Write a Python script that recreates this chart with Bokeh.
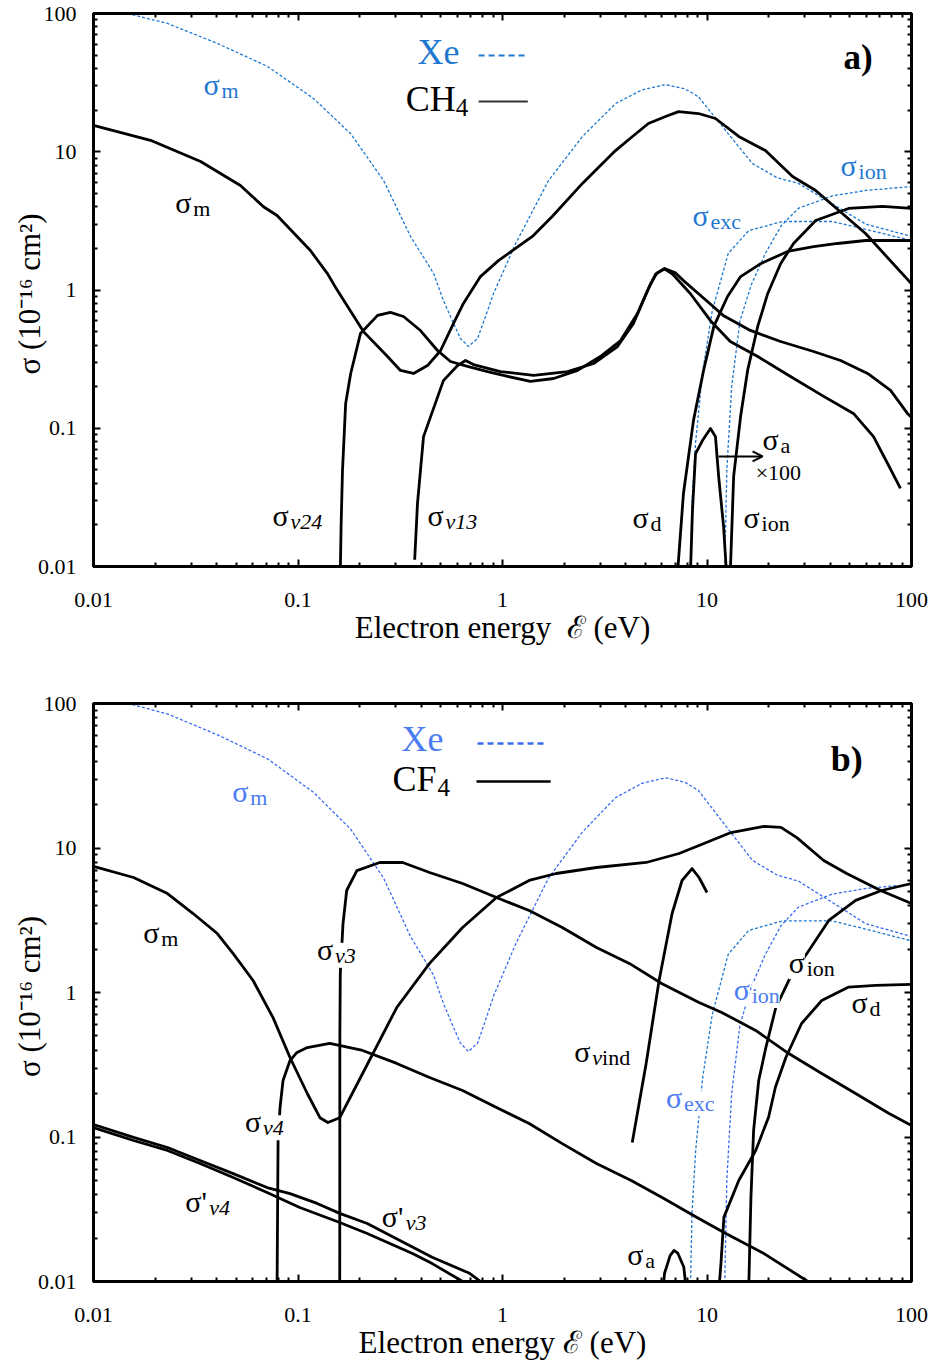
import math
from bokeh.plotting import figure
from bokeh.models import (Range1d, LogAxis, FixedTicker, CustomJSTickFormatter,
                          Label, Arrow, OpenHead)
from bokeh.layouts import column
from bokeh.embed import file_html
from bokeh.resources import INLINE

FONT = "Liberation Serif"

# ---------------- data: Xe (shared by both panels) ----------------
xe_m_E = [0.01, 0.0136, 0.023, 0.0404, 0.071, 0.119, 0.181, 0.262, 0.355, 0.46, 0.514, 0.576,
          0.623, 0.682, 0.755, 0.826, 0.904, 1.0, 1.16, 1.68, 2.46, 3.57, 4.8, 6.27, 7.8, 9.08,
          11.9, 16.7, 22, 28, 41, 59.6, 100]
xe_m = [115, 103, 84.7, 60.7, 41.4, 24.3, 13.5, 6.2, 2.44, 1.32, 0.84, 0.573,
        0.446, 0.39, 0.446, 0.643, 0.944, 1.32, 2.17, 6.2, 12.9, 22.3, 28, 30.6, 28.5, 25,
        15.2, 8.2, 6.5, 5.9, 4.2, 3.0, 2.44]
xe_exc_E = [8.3, 8.45, 8.8, 9.5, 10.6, 12.7, 16, 23.4, 41, 59.6, 100]
xe_exc = [0.009, 0.03, 0.08, 0.25, 0.7, 1.84, 2.69, 3.13, 3.13, 2.75, 2.28]
xe_ion_E = [12.2, 12.5, 13.2, 14.5, 16.5, 19.3, 23, 28, 41, 60, 100]
xe_ion = [0.009, 0.05, 0.2, 0.6, 1.1, 1.84, 2.9, 3.9, 4.8, 5.25, 5.6]

# ---------------- data: CH4 (panel a) ----------------
ch4_m_E = [0.01, 0.019, 0.0334, 0.0523, 0.0678, 0.079, 0.115, 0.139, 0.156, 0.209, 0.274, 0.317,
           0.367, 0.43, 0.498, 0.576, 0.644, 0.78, 0.955, 1.4, 1.75, 2.46, 3.57, 4.32, 5.17, 6.27,
           7.26, 9.08, 11, 14.3, 19.3, 26.2, 34, 59.6, 100]
ch4_m = [15.5, 12.1, 8.5, 5.7, 4.0, 3.46, 1.93, 1.32, 0.99, 0.5, 0.33, 0.262,
         0.249, 0.284, 0.365, 0.573, 0.8, 1.25, 1.63, 2.44, 3.4, 5.9, 10.2, 12.9, 16, 18.0,
         19.5, 18.9, 17.4, 12.9, 10.2, 6.62, 5.25, 2.56, 1.11]
ch4_v24_E = [0.161, 0.1625, 0.165, 0.171, 0.181, 0.202, 0.245, 0.283, 0.328, 0.397, 0.481, 0.557,
             0.674, 0.845, 1.06, 1.37, 1.78, 2.33, 3.01, 3.78, 4.57, 5.3, 5.7, 6.2, 6.8, 8.3, 10.4,
             13.0, 17.7, 25.6, 37.2, 52, 65.2, 76.4, 88.3]
ch4_v24 = [0.009, 0.02, 0.049, 0.151, 0.249, 0.484, 0.655, 0.688, 0.643, 0.509, 0.365, 0.304,
           0.28, 0.257, 0.237, 0.218, 0.229, 0.262, 0.33, 0.431, 0.676, 1.11, 1.33, 1.42, 1.3, 0.94,
           0.60, 0.424, 0.33, 0.237, 0.17, 0.128, 0.087, 0.0556, 0.0367]
ch4_v13_E = [0.372, 0.384, 0.411, 0.514, 0.603, 0.659, 0.721, 0.977, 1.42, 2.08, 2.79, 3.65, 4.37,
             5.12, 5.6, 6.2, 7.0, 7.67, 10.05, 12.0, 16.3, 22.9, 33.2, 45, 61, 79, 95.5, 100]
ch4_v13 = [0.0112, 0.0286, 0.087, 0.221, 0.284, 0.309, 0.289, 0.257, 0.241, 0.257, 0.294, 0.39, 0.573,
           0.99, 1.3, 1.43, 1.33, 1.17, 0.826, 0.655, 0.51, 0.424, 0.359, 0.309, 0.249, 0.188, 0.128, 0.12]
ch4_d_E = [7.18, 7.67, 8.59, 9.62, 10.8, 12.6, 14.6, 18.3, 24.8, 33.2, 43.5, 59.6, 100]
ch4_d = [0.009, 0.0337, 0.114, 0.262, 0.545, 0.897, 1.25, 1.55, 1.9, 2.06, 2.17, 2.28, 2.28]
ch4_ion_E = [13.0, 13.5, 14.6, 15.8, 17.7, 19.8, 22.9, 26.5, 34, 49.2, 72, 100]
ch4_ion = [0.009, 0.0448, 0.122, 0.262, 0.545, 0.94, 1.55, 2.17, 3.18, 3.89, 4.02, 3.89]
ch4_a100_E = [8.3, 8.49, 8.79, 9.5, 10.4, 11.0, 11.4, 12.05, 12.45]
ch4_a100 = [0.009, 0.0254, 0.0656, 0.0815, 0.0995, 0.087, 0.0448, 0.0195, 0.009]

# ---------------- data: CF4 (panel b) ----------------
cf4_m_E = [0.01, 0.0157, 0.023, 0.0307, 0.0403, 0.0482, 0.0603, 0.0755, 0.0914, 0.111, 0.128, 0.14,
           0.16, 0.207, 0.304, 0.44, 0.638, 0.935, 1.35, 1.83, 2.88, 5.04, 7.3, 9.14, 13.1, 19, 23,
           27.5, 37.2, 48.2, 70.6, 100]
cf4_m = [7.45, 6.25, 4.84, 3.52, 2.56, 1.86, 1.21, 0.67, 0.355, 0.2, 0.136, 0.126,
         0.136, 0.275, 0.787, 1.59, 2.82, 4.54, 5.96, 6.66, 7.33, 7.94, 9.16, 10.4, 12.8, 14.1, 13.9,
         11.8, 8.2, 6.66, 5.08, 4.13]
cf4_v3_E = [0.160, 0.1602, 0.161, 0.166, 0.173, 0.194, 0.251, 0.325, 0.44, 0.638, 0.935, 1.35, 1.96,
            2.88, 4.17, 6.03, 9.14, 11.8, 17.3, 25.1, 36.4, 53.3, 77.3, 100]
cf4_v3 = [0.009, 0.5, 1.35, 3.0, 5.08, 6.98, 7.94, 7.94, 6.77, 5.68, 4.54, 3.69, 2.82,
          2.05, 1.59, 1.15, 0.853, 0.728, 0.546, 0.378, 0.275, 0.2, 0.146, 0.12]
cf4_v4_E = [0.079, 0.0799, 0.0817, 0.0845, 0.0914, 0.0989, 0.111, 0.143, 0.207, 0.304, 0.44, 0.638,
            0.935, 1.35, 1.96, 2.88, 4.26, 6.03, 8.94, 12.1, 19, 33]
cf4_v4 = [0.009, 0.0946, 0.16, 0.246, 0.338, 0.385, 0.416, 0.444, 0.397, 0.323, 0.258, 0.21,
          0.16, 0.124, 0.09, 0.0656, 0.05, 0.0381, 0.0277, 0.0218, 0.0156, 0.0095]
cf4_pv3_E = [0.01, 0.0157, 0.023, 0.0332, 0.0482, 0.0706, 0.0914, 0.124, 0.16, 0.218, 0.315, 0.453, 0.69, 0.82]
cf4_pv3 = [0.122, 0.0993, 0.0846, 0.0687, 0.0558, 0.0447, 0.0406, 0.0347, 0.0296, 0.0252, 0.0192, 0.0147, 0.0114, 0.0095]
cf4_pv4_E = [0.01, 0.0157, 0.023, 0.0332, 0.0482, 0.0706, 0.102, 0.16, 0.218, 0.363, 0.453, 0.68]
cf4_pv4 = [0.116, 0.0946, 0.0807, 0.0656, 0.0525, 0.0413, 0.0325, 0.0256, 0.0215, 0.0156, 0.0133, 0.0095]
cf4_vind_E = [4.31, 5.04, 5.83, 6.75, 7.55, 8.45, 9.14, 10.0]
cf4_vind = [0.0916, 0.323, 1.21, 3.52, 5.96, 7.21, 6.25, 4.92]
cf4_a_E = [6.1, 6.2, 6.6, 6.9, 7.2, 7.7, 7.9]
cf4_a = [0.009, 0.0114, 0.0151, 0.0164, 0.0157, 0.0126, 0.009]
cf4_ion_E = [16.0, 16.4, 16.9, 17.9, 19.4, 21.7, 25.1, 31.5, 39.4, 53.3, 71.4, 100]
cf4_ion = [0.009, 0.0381, 0.111, 0.246, 0.416, 0.787, 1.21, 1.95, 3.15, 4.34, 5.08, 5.68]
cf4_d_E = [11.45, 11.7, 12.1, 14.3, 17.3, 20.0, 21.6, 24.3, 29, 36.4, 49.3, 66.7, 100]
cf4_d = [0.009, 0.0133, 0.0279, 0.05, 0.0807, 0.137, 0.221, 0.355, 0.61, 0.88, 1.09, 1.12, 1.14]

major_ticks = [0.01, 0.1, 1, 10, 100]
minor_ticks = [m * 10.0 ** k for k in range(-2, 2) for m in range(2, 10)]
tick_labels_code = "return tick.toString();"
y_title = "σ  (10⁻¹⁶ cm²)"

BLUE_A = "#1f78d0"
BLUE_B = "#3a6cf0"
BLUE_B2 = "#1e7acc"
BLUE_TXT_B = "#4a7cf2"
LIFT = 11  # px: align text baselines with the reference


def style_axis(ax, show_labels):
    ax.ticker = FixedTicker(ticks=major_ticks, minor_ticks=minor_ticks)
    ax.axis_line_width = 3
    ax.axis_line_color = "black"
    ax.major_tick_in = 7
    ax.major_tick_out = 0
    ax.minor_tick_in = 4
    ax.minor_tick_out = 0
    ax.major_tick_line_width = 2
    ax.minor_tick_line_width = 2
    ax.major_tick_line_color = "black"
    ax.minor_tick_line_color = "black"
    if show_labels:
        ax.formatter = CustomJSTickFormatter(code=tick_labels_code)
        ax.major_label_text_font = FONT
        ax.major_label_text_font_size = "22px"
        ax.major_label_text_color = "black"
    else:
        ax.formatter = CustomJSTickFormatter(code="return '';")
        ax.major_label_text_font_size = "0px"
        ax.major_label_standoff = 0


def make_fig(h, bl, br, bt, bb, xlabel):
    p = figure(width=935, height=h, x_axis_type="log", y_axis_type="log",
               x_range=Range1d(0.01, 100), y_range=Range1d(0.01, 100),
               output_backend="svg", toolbar_location=None,
               min_border_left=bl, min_border_right=br, min_border_top=bt, min_border_bottom=bb)
    p.xgrid.visible = False
    p.ygrid.visible = False
    p.outline_line_color = "black"
    p.outline_line_width = 3
    p.background_fill_color = "white"
    p.border_fill_color = "white"
    style_axis(p.xaxis[0], True)
    style_axis(p.yaxis[0], True)
    p.xaxis[0].major_label_standoff = 26
    p.yaxis[0].major_label_standoff = 17
    p.xaxis[0].axis_label = xlabel
    p.xaxis[0].axis_label_text_font = FONT
    p.xaxis[0].axis_label_text_font_size = "31px"
    p.xaxis[0].axis_label_text_font_style = "normal"
    p.xaxis[0].axis_label_text_color = "black"
    p.xaxis[0].axis_label_standoff = 0
    p.yaxis[0].axis_label = y_title
    p.yaxis[0].axis_label_text_font = FONT
    p.yaxis[0].axis_label_text_font_size = "31px"
    p.yaxis[0].axis_label_text_font_style = "normal"
    p.yaxis[0].axis_label_text_color = "black"
    p.yaxis[0].axis_label_standoff = -12
    ra = LogAxis()
    style_axis(ra, False)
    p.add_layout(ra, "right")
    ta = LogAxis()
    style_axis(ta, False)
    p.add_layout(ta, "above")
    return p


def txt(p, x, y, text, size, color="black", style="normal", dx=0, dy=0, bg=False):
    kw = dict(background_fill_color="white") if bg else {}
    p.add_layout(Label(x=x, y=y, x_offset=dx, y_offset=dy + LIFT, text=text, text_font=FONT,
                       text_font_size=f"{size}px", text_color=color, text_font_style=style,
                       text_baseline="alphabetic", text_align="left", **kw))


def sym(p, x, y, sub, color="black", prime=False, italic_sub=False, bg=False,
        size=30, sub_size=22, tail=None):
    main = "σ'" if prime else "σ"
    txt(p, x, y, main, size, color, bg=bg)
    off = size * 0.6 + (size * 0.2 if prime else 0)
    txt(p, x, y, sub, sub_size, color, "italic" if italic_sub else "normal", dx=off, dy=-6, bg=bg)
    if tail:
        txt(p, x, y, tail, sub_size, color, dx=off + sub_size * 0.45, dy=-6, bg=bg)


BW = 2.8
DASH = "3 2"

# ================= panel a =================
pa = make_fig(658, 93, 24, 13, 92, "Electron energy \u00a0ℰ (eV)")
pa.line(xe_m_E, xe_m, line_color=BLUE_A, line_width=1.3, line_dash=DASH)
pa.line(xe_exc_E, xe_exc, line_color=BLUE_A, line_width=1.3, line_dash=DASH)
pa.line(xe_ion_E, xe_ion, line_color=BLUE_A, line_width=1.3, line_dash=DASH)
for xs, ys in [(ch4_m_E, ch4_m), (ch4_v24_E, ch4_v24), (ch4_v13_E, ch4_v13),
               (ch4_d_E, ch4_d), (ch4_ion_E, ch4_ion), (ch4_a100_E, ch4_a100)]:
    pa.line(xs, ys, line_color="black", line_width=BW, line_join="round")

# legend (a)
txt(pa, 0.384, 43.5, "Xe", 36, BLUE_A)
pa.line([0.764, 1.34], [49.7, 49.7], line_color=BLUE_A, line_width=2, line_dash="6 4")
txt(pa, 0.336, 19.9, "CH", 36)
txt(pa, 0.336, 19.9, "4", 25, dx=50, dy=-8)
pa.line([0.764, 1.33], [23.1, 23.1], line_color="#333333", line_width=1.8)
txt(pa, 46.5, 40, "a)", 35, style="bold")

sym(pa, 0.0345, 25.5, "m", color=BLUE_A)
sym(pa, 0.0251, 3.57, "m")
sym(pa, 45, 6.62, "ion", color=BLUE_A)
sym(pa, 8.49, 2.88, "exc", color=BLUE_A)
sym(pa, 0.075, 0.0195, "v24", italic_sub=True)
sym(pa, 0.43, 0.0195, "v13", italic_sub=True)
sym(pa, 4.32, 0.0188, "d")
sym(pa, 15.1, 0.0188, "ion")
sym(pa, 18.7, 0.069, "a")
txt(pa, 17.3, 0.0398, "×100", 22)
pa.add_layout(Arrow(end=OpenHead(size=10, line_width=2), x_start=11.4, y_start=0.0625,
                    x_end=18.7, y_end=0.0625, line_width=2))

# ================= panel b =================
pb = make_fig(708, 93, 22, 45, 85, "Electron energy ℰ (eV)")
pb.line(xe_m_E, xe_m, line_color=BLUE_B, line_width=1.3, line_dash=DASH)
pb.line(xe_exc_E, xe_exc, line_color=BLUE_B2, line_width=1.3, line_dash=DASH)
pb.line(xe_ion_E, xe_ion, line_color=BLUE_B, line_width=1.3, line_dash=DASH)
for xs, ys in [(cf4_m_E, cf4_m), (cf4_v3_E, cf4_v3), (cf4_v4_E, cf4_v4),
               (cf4_pv3_E, cf4_pv3), (cf4_pv4_E, cf4_pv4), (cf4_vind_E, cf4_vind),
               (cf4_a_E, cf4_a), (cf4_ion_E, cf4_ion), (cf4_d_E, cf4_d)]:
    pb.line(xs, ys, line_color="black", line_width=BW, line_join="round")

txt(pb, 0.321, 47.3, "Xe", 36, BLUE_TXT_B)
pb.line([0.755, 1.64], [52.9, 52.9], line_color=BLUE_B, line_width=2.5, line_dash="6 4")
txt(pb, 0.29, 25, "CF", 36)
txt(pb, 0.29, 25, "4", 25, dx=45, dy=-8)
pb.line([0.746, 1.72], [28.8, 28.8], line_color="black", line_width=2.5)
txt(pb, 40.3, 34.4, "b)", 36, style="bold")

sym(pb, 0.0477, 20.6, "m", color=BLUE_TXT_B)
sym(pb, 0.0175, 2.18, "m")
sym(pb, 0.124, 1.67, "v3", italic_sub=True, bg=True)
sym(pb, 0.0551, 0.107, "v4", italic_sub=True, bg=True)
sym(pb, 0.0281, 0.0301, "v4", italic_sub=True, prime=True)
sym(pb, 0.257, 0.0237, "v3", italic_sub=True, prime=True)
sym(pb, 2.24, 0.328, "v", italic_sub=True, tail="ind")
sym(pb, 6.31, 0.157, "exc", color=BLUE_TXT_B, bg=True)
sym(pb, 13.5, 0.88, "ion", color=BLUE_TXT_B, bg=True)
sym(pb, 25.1, 1.35, "ion", bg=True)
sym(pb, 50.9, 0.716, "d")
sym(pb, 4.07, 0.0129, "a")

layout = column(pa, pb, spacing=0)
open("out.html", "w").write(file_html(layout, INLINE))
